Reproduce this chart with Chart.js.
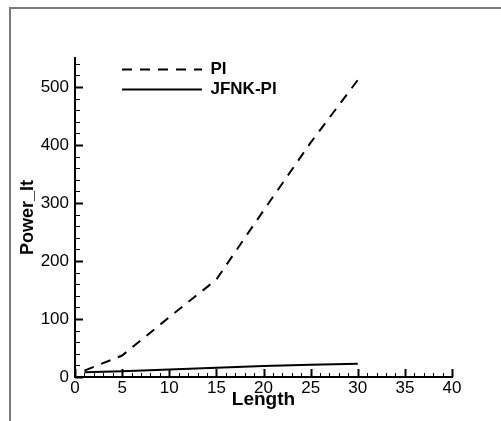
<!DOCTYPE html>
<html>
<head>
<meta charset="utf-8">
<script src="https://cdn.jsdelivr.net/npm/chart.js@4.4.1/dist/chart.umd.min.js"></script>
<style>
  body { margin: 0; background: #fff; }
  #wrap { position: relative; width: 501px; height: 421px; }
  #frame { position: absolute; left: 9px; top: 7px; right: 0; bottom: 0;
           border-top: 2px solid #7a7a7a; border-left: 2px solid #7a7a7a; }
  #chart { position: absolute; left: 0; top: 0; }
</style>
</head>
<body>
<div id="wrap">
  <div id="frame"></div>
  <canvas id="chart" width="501" height="421"></canvas>
</div>
<script>
//data arrays
const lengths = [1, 5, 10, 15, 20, 25, 30];
const piIters = [11, 37, 103, 168, 287, 404, 512];
const jfnkIters = [8, 10, 13, 16, 19, 21, 23];

const xTicks = [0, 5, 10, 15, 20, 25, 30, 35, 40];
const yTicks = [0, 100, 200, 300, 400, 500];

const fontFamily = '"Liberation Sans", Arial, Helvetica, sans-serif';

//inward major / minor tick marks, placed through the scales
const innerTicks = {
    id: 'innerTicks',
    afterDraw(chart) {
        const ctx = chart.ctx;
        const xs = chart.scales.x, ys = chart.scales.y;
        const area = chart.chartArea;
        ctx.save();
        ctx.strokeStyle = '#000';
        for (let v = xs.min; v <= xs.max; v += 1) {
            const major = xTicks.includes(v);
            const px = Math.round(xs.getPixelForValue(v)) + 0.5;
            ctx.lineWidth = major ? 2 : 1;
            ctx.beginPath();
            ctx.moveTo(px, area.bottom);
            ctx.lineTo(px, area.bottom - (major ? 8 : 4));
            ctx.stroke();
        }
        for (let v = ys.min; v <= ys.max; v += 20) {
            const major = yTicks.includes(v);
            const py = Math.round(ys.getPixelForValue(v)) + 0.5;
            ctx.lineWidth = major ? 2 : 1;
            ctx.beginPath();
            ctx.moveTo(area.left, py);
            ctx.lineTo(area.left + (major ? 8 : 5), py);
            ctx.stroke();
        }
        ctx.restore();
    }
};

//put the legend inside the plot, in from the y axis
const legendShift = {
    id: 'legendShift',
    beforeDraw(chart) {
        const lg = chart.legend;
        const dx = chart.chartArea.left + 44 - lg.left;
        const dy = chart.chartArea.top - lg.top;
        lg.left += dx; lg.right += dx;
        lg.top += dy; lg.bottom += dy;
    }
};

const data = {
    datasets: [{
        label: 'PI',
        data: lengths.map((x, i) => ({x: x, y: piIters[i]})),
        borderColor: '#000',
        backgroundColor: '#000',
        borderWidth: 2,
        borderDash: [10, 8],
        pointRadius: 0,
        tension: 0,
        fill: false
    },
    {
        label: 'JFNK-PI',
        data: lengths.map((x, i) => ({x: x, y: jfnkIters[i]})),
        borderColor: '#000',
        backgroundColor: '#000',
        borderWidth: 2,
        pointRadius: 0,
        tension: 0,
        fill: false
    }]
};

const config = {
    type: 'line',
    data: data,
    options: {
        responsive: false,
        animation: false,
        layout: {
            padding: {top: 58, right: 49, left: 0, bottom: 0}
        },
        plugins: {
            tooltip: {enabled: false},
            legend: {
                position: 'chartArea',
                align: 'start',
                labels: {
                    usePointStyle: true,
                    pointStyle: 'line',
                    pointStyleWidth: 80,
                    padding: 3,
                    color: '#000',
                    font: {family: fontFamily, size: 17, weight: 'bold'},
                    generateLabels: (chart) => {
                        const items = Chart.defaults.plugins.legend.labels.generateLabels(chart);
                        items.forEach((item, i) => {
                            const ds = chart.data.datasets[i];
                            item.lineDash = ds.borderDash || [];
                            item.lineWidth = ds.borderWidth;
                            item.strokeStyle = ds.borderColor;
                        });
                        return items;
                    }
                }
            }
        },
        scales: {
            x: {
                type: 'linear',
                position: 'bottom',
                min: 0,
                max: 40,
                afterBuildTicks: (scale) => { scale.ticks = xTicks.map((v) => ({value: v})); },
                afterFit: (scale) => { scale.height = 44; },
                grid: {display: false, drawTicks: false},
                border: {display: true, color: '#000', width: 2},
                ticks: {
                    color: '#000',
                    padding: 1,
                    maxRotation: 0,
                    font: {family: fontFamily, size: 17}
                },
                title: {
                    display: true,
                    text: 'Length',
                    color: '#000',
                    padding: {top: 0, bottom: 10},
                    font: {family: fontFamily, size: 19, weight: 'bold'}
                }
            },
            y: {
                type: 'linear',
                min: 0,
                max: 550,
                afterBuildTicks: (scale) => { scale.ticks = yTicks.map((v) => ({value: v})); },
                afterFit: (scale) => { scale.width = 75; },
                grid: {display: false, drawTicks: false},
                border: {display: true, color: '#000', width: 2},
                ticks: {
                    color: '#000',
                    padding: 6,
                    font: {family: fontFamily, size: 17}
                },
                title: {
                    display: true,
                    text: 'Power_It',
                    color: '#000',
                    padding: {top: 17, bottom: 0},
                    font: {family: fontFamily, size: 18, weight: 'bold'}
                }
            }
        }
    },
    plugins: [innerTicks, legendShift]
};

new Chart(document.getElementById('chart'), config);
</script>
</body>
</html>
